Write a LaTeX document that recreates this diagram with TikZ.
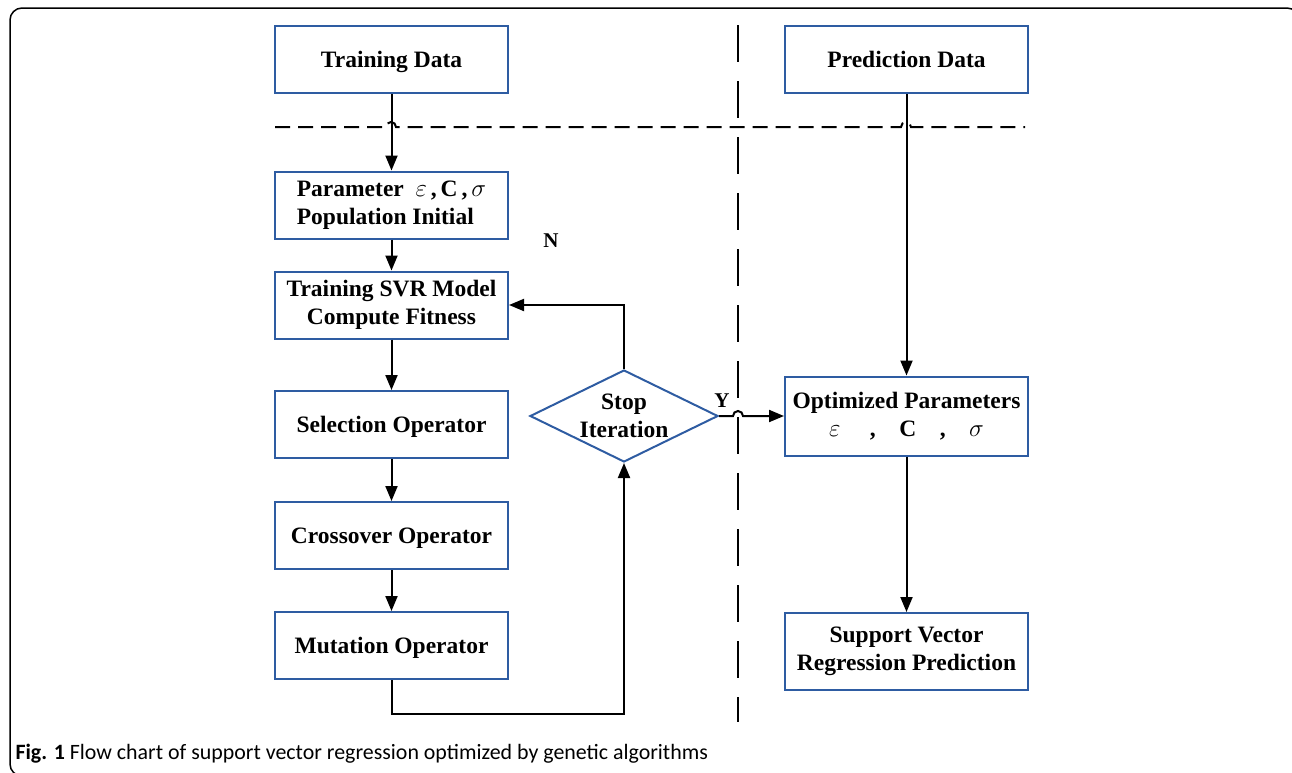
\documentclass[tikz,border=0pt]{standalone}
\usepackage{fontspec}
\setmainfont{Liberation Serif}
\newfontfamily\capfont{Carlito}
\usetikzlibrary{arrows.meta,shapes.geometric}
\definecolor{boxblue}{RGB}{46,92,162}
\begin{document}
\begin{tikzpicture}[x=1pt,y=1pt,>={Triangle[length=15pt,width=12pt]},
	box/.style={draw=boxblue,line width=2pt,minimum width=233pt,minimum height=67pt,inner sep=2pt,align=center,font=\bfseries\fontsize{23.5}{28}\selectfont},
	oneline/.style={text height=16pt,text depth=0pt},
	conn/.style={line width=2pt,black},
	lbl/.style={font=\bfseries\fontsize{21}{24}\selectfont}]
		\useasboundingbox (0,0) rectangle (1292,-772);
		\clip (0,0) rectangle (1292,-772);
		\draw[line width=1.5pt,rounded corners=12pt] (10,-8) rectangle (1299,-776);
		% left column
		\node[box,oneline] (td) at (391.5,-59.5) {Training Data};
		\node[box,align=left] (param) at (391.5,-205) {Parameter \ $\varepsilon$\,,\,C\,,\,$\sigma$\\Population Initial};
		\node[box] (svr) at (391.5,-305) {Training SVR Model\\Compute Fitness};
		\node[box,oneline] (sel) at (391.5,-424.5) {Selection Operator};
		\node[box,oneline] (cross) at (391.5,-535.5) {Crossover Operator};
		\node[box,oneline] (mut) at (391.5,-645.5) {Mutation Operator};
		\node[draw=boxblue,line width=2pt,diamond,aspect=2.04,minimum width=188pt,minimum height=92pt,inner sep=0pt] (stop) at (624,-416) {};
		\node[align=center,font=\bfseries\fontsize{23.5}{28}\selectfont] at (stop) {Stop\\Iteration};
		% right column
		\node[box,oneline,minimum width=243pt] (pd) at (906.5,-59.5) {Prediction Data};
		\node[box,minimum width=243pt,minimum height=79pt] (opt) at (906.5,-416) {Optimized Parameters\\$\varepsilon$\quad\ ,\quad C\quad,\quad$\sigma$};
		\node[box,minimum width=243pt,minimum height=77pt] (svrp) at (906.5,-651.5) {Support Vector\\Regression Prediction};
		% separators
		\draw[line width=2pt,dash pattern=on 15pt off 8pt] (275,-127) -- (386,-127) arc[start angle=180,end angle=0,radius=5] -- (901,-127) arc[start angle=180,end angle=0,radius=5] -- (1025,-127);
		\draw[line width=2pt,dash pattern=on 37pt off 19pt] (738,-25) -- (738,-722);
		\coordinate (hopY) at (738,-416);
		% connectors
		\draw[conn,->] (td) -- (param);
		\draw[conn,->] (param) -- (svr);
		\draw[conn,->] (svr) -- (sel);
		\draw[conn,->] (sel) -- (cross);
		\draw[conn,->] (cross) -- (mut);
		\draw[conn,->] (mut.south) -- ++(0,-34) -| (stop.south);
		\draw[conn,->] (stop.north) |- (svr.east);
		\draw[conn,->] (stop.east) -- ([xshift=-5pt]hopY) arc[start angle=180,end angle=0,radius=5] -- (opt.west);
		\draw[conn,->] (pd) -- (opt);
		\draw[conn,->] (opt) -- (svrp);
		\node[lbl] at (551,-241) {N};
		\node[lbl] at (722,-401) {Y};
		\node[anchor=base west,font=\capfont\fontsize{21.9}{24}\selectfont] at (12,-759) {\textbf{Fig. 1} Flow chart of support vector regression optimized by genetic algorithms};
	\end{tikzpicture}
\end{document}
